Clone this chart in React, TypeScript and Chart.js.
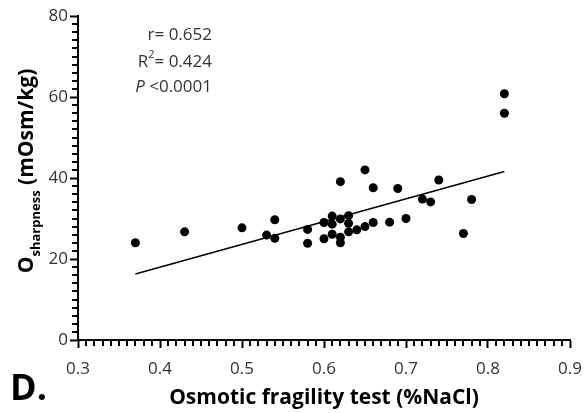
import React, { useEffect, useRef } from "react";
import { Chart, registerables } from "chart.js";

Chart.register(...registerables);

const xValues = [
  0.37, 0.43, 0.5, 0.53, 0.54, 0.54, 0.58, 0.58, 0.6, 0.6, 0.61, 0.61, 0.61,
  0.62, 0.62, 0.62, 0.62, 0.63, 0.63, 0.63, 0.64, 0.65, 0.65, 0.66, 0.66,
  0.68, 0.69, 0.7, 0.72, 0.73, 0.74, 0.77, 0.78, 0.82, 0.82,
];
const yValues = [
  24.0, 26.7, 27.7, 25.9, 29.7, 25.1, 27.3, 23.9, 29.0, 25.0, 30.6, 28.6, 26.1,
  39.1, 29.9, 25.4, 24.0, 30.7, 28.8, 26.7, 27.2, 42.0, 28.0, 37.6, 29.0,
  29.1, 37.4, 30.0, 34.8, 34.1, 39.5, 26.3, 34.7, 60.8, 56.0,
];
const fitX = [0.37, 0.82];
const fitY = [16.3, 41.6];

const xTitle = "Osmotic fragility test (%NaCl)";
const yTitleMain = "O";
const yTitleSub = "sharpness";
const yTitleUnit = " (mOsm/kg)";
const statR = "r= 0.652";
const statR2 = "= 0.424";
const statP = "<0.0001";
const panelLabel = "D.";

const FONT = "'Open Sans', 'DejaVu Sans', sans-serif";

const customPlugin = {
  id: "custom",
  afterDraw(chart: any) {
    const ctx = chart.ctx as CanvasRenderingContext2D;
    const xs = chart.scales.x;
    const ys = chart.scales.y;
    const left = xs.left;
    const bottom = ys.bottom;
    ctx.save();
    // minor ticks
    ctx.fillStyle = "#000";
    for (let i = 30; i <= 90; i++) {
      if (i % 10 === 0) continue;
      const px = Math.round(xs.getPixelForValue(i / 100));
      ctx.fillRect(px - 1, bottom + 1, 2, 5);
    }
    for (let v = 0; v <= 80; v += 2) {
      if (v % 20 === 0) continue;
      const py = Math.round(ys.getPixelForValue(v));
      ctx.fillRect(left - 6, py - 1, 5, 2);
    }

    // y title
    ctx.fillStyle = "#000";
    const mainFont = `bold 21px ${FONT}`;
    const subFont = `bold 13px ${FONT}`;
    ctx.font = mainFont;
    const wO = ctx.measureText(yTitleMain).width;
    const wU = ctx.measureText(yTitleUnit).width;
    ctx.font = subFont;
    const wS = ctx.measureText(yTitleSub).width;
    const total = wO + wS + wU;
    const cy = 171;
    ctx.translate(33, cy + total / 2);
    ctx.rotate(-Math.PI / 2);
    ctx.textBaseline = "alphabetic";
    ctx.textAlign = "left";
    ctx.font = mainFont;
    ctx.fillText(yTitleMain, 0, 0);
    ctx.font = subFont;
    ctx.fillText(yTitleSub, wO, 7);
    ctx.font = mainFont;
    ctx.fillText(yTitleUnit, wO + wS, 0);
    ctx.setTransform(1, 0, 0, 1, 0, 0);

    // stats text
    const statFont = `17px ${FONT}`;
    const supFont = `11px ${FONT}`;
    const rx = 212;
    ctx.fillStyle = "#333";
    ctx.textAlign = "right";
    ctx.textBaseline = "middle";
    ctx.font = statFont;
    ctx.fillText(statR, rx, 35);
    ctx.fillText(statR2, rx, 62);
    const w1 = ctx.measureText(statR2).width;
    ctx.font = supFont;
    ctx.fillText("2", rx - w1, 55);
    const w2 = ctx.measureText("2").width;
    ctx.font = statFont;
    ctx.fillText("R", rx - w1 - w2, 62);
    ctx.fillText(statP, rx, 87);
    const w3 = ctx.measureText(" " + statP).width;
    ctx.font = `italic 17px ${FONT}`;
    ctx.fillText("P", rx - w3, 87);

    // panel label
    ctx.fillStyle = "#000";
    ctx.textAlign = "left";
    ctx.textBaseline = "alphabetic";
    ctx.font = `bold 36px ${FONT}`;
    ctx.fillText(panelLabel, 10, 400);
    ctx.restore();
  },
};

export default function App() {
  const canvasRef = useRef<HTMLCanvasElement | null>(null);

  useEffect(() => {
    document.body.style.margin = "0";
    const canvas = canvasRef.current;
    if (!canvas) return;
    const points = xValues.map((x, i) => ({ x, y: yValues[i] }));
    const fit = fitX.map((x, i) => ({ x, y: fitY[i] }));
    const chart = new Chart(canvas, {
      type: "scatter",
      data: {
        datasets: [
          {
            type: "line",
            data: fit,
            borderColor: "#000",
            borderWidth: 1.5,
            pointRadius: 0,
            fill: false,
          } as any,
          {
            data: points,
            backgroundColor: "#000",
            borderColor: "#000",
            pointRadius: 4.5,
            borderWidth: 0,
          },
        ],
      },
      options: {
        animation: false,
        responsive: true,
        maintainAspectRatio: false,
        layout: { padding: { left: 8, top: 16, right: 16, bottom: 0 } },
        plugins: {
          legend: { display: false },
          tooltip: { enabled: false },
        },
        scales: {
          x: {
            type: "linear",
            min: 0.3,
            max: 0.9,
            ticks: {
              stepSize: 0.1,
              font: { family: FONT, size: 17 },
              color: "#333",
              padding: 11,
              minRotation: 0,
              maxRotation: 0,
            },
            grid: {
              drawOnChartArea: false,
              drawTicks: true,
              tickLength: 8,
              tickWidth: 2,
              tickColor: "#000",
            },
            border: { color: "#000", width: 2 },
            title: {
              display: true,
              text: xTitle,
              color: "#000",
              font: { family: FONT, size: 21, weight: "bold" },
              padding: { top: 0, bottom: 2 },
            },
            afterFit: (scale: any) => {
              scale.height = 73;
              scale.paddingLeft = 0;
              scale.paddingRight = 0;
            },
          },
          y: {
            type: "linear",
            min: 0,
            max: 80,
            ticks: {
              stepSize: 20,
              font: { family: FONT, size: 17 },
              color: "#333",
              padding: 2,
            },
            grid: {
              drawOnChartArea: false,
              drawTicks: true,
              tickLength: 8,
              tickWidth: 2,
              tickColor: "#000",
            },
            border: { color: "#000", width: 2 },
            afterFit: (scale: any) => {
              scale.width = 70;
            },
          },
        },
      },
      plugins: [customPlugin],
    });
    return () => chart.destroy();
  }, []);

  return (
    <div style={{ width: 586, height: 413, position: "relative" }}>
      <canvas ref={canvasRef} />
    </div>
  );
}
